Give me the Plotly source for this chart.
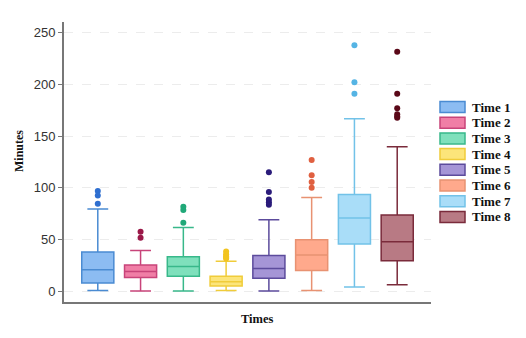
import plotly.graph_objects as go

categories = ["Time 1", "Time 2", "Time 3", "Time 4", "Time 5", "Time 6", "Time 7", "Time 8"]
q1 = [7.8, 13.0, 14.3, 4.9, 12.3, 20.0, 45.5, 29.4]
median = [20.5, 18.8, 23.7, 9.1, 21.9, 34.8, 70.6, 47.7]
q3 = [37.7, 25.3, 33.1, 14.3, 34.5, 49.7, 93.5, 73.5]
lowerfence = [0.6, 0.0, 0.0, 0.6, 0.0, 0.6, 3.9, 6.1]
upperfence = [79.5, 39.3, 61.4, 28.9, 69.0, 90.6, 166.8, 139.7]
outliers = [
    [96.8, 92.5, 84.4],
    [57.5, 51.6],
    [81.5, 78.4, 66.0],
    [38.3, 35.5, 33.8, 32.5, 31.5],
    [115.0, 95.8, 88.7, 86.0, 83.5],
    [126.8, 112.0, 105.5, 100.0],
    [238.0, 202.0, 191.0],
    [231.6, 191.0, 177.0, 171.0, 169.0, 167.7],
]
y_ticks = [0, 50, 100, 150, 200, 250]

fills = ["#8cbcf2", "#f07ea6", "#7fe0bc", "#fce57a", "#a595d6", "#ffa98c", "#a9ddf8", "#b87a84"]
lines = ["#4a8bd2", "#c8447a", "#38b88a", "#f0cc3a", "#5c4b9c", "#e89272", "#72c2e8", "#7a2b3b"]
dots = ["#2f6fd0", "#9a1848", "#20a878", "#f2c420", "#2a1b7a", "#e06040", "#55b4e4", "#5a0818"]

W, H = 526, 338
L, R, T, B = 64, 95, 22, 36
pw, ph = W - L - R, H - T - B

fig = go.Figure()
for i, c in enumerate(categories):
    fig.add_trace(go.Box(
        x=[c], q1=[q1[i]], median=[median[i]], q3=[q3[i]],
        lowerfence=[lowerfence[i]], upperfence=[upperfence[i]],
        name=c, boxpoints=False, width=0.75, whiskerwidth=0.65,
        fillcolor=fills[i], line=dict(color=lines[i], width=1.5),
        showlegend=False,
    ))
    fig.add_trace(go.Scatter(
        x=[c] * len(outliers[i]), y=outliers[i], mode="markers",
        marker=dict(color=dots[i], size=6), showlegend=False,
        hoverinfo="y",
    ))

# manual legend (compact spacing like the reference)
shapes = []
annotations = []
for i, c in enumerate(categories):
    yc = 107 + 15.7 * i
    shapes.append(dict(
        type="rect", xref="paper", yref="paper",
        x0=(440 - L) / pw, x1=(465 - L) / pw,
        y0=(T + ph - (yc + 5.5)) / ph, y1=(T + ph - (yc - 5.5)) / ph,
        fillcolor=fills[i], line=dict(color=lines[i], width=1.5),
    ))
    annotations.append(dict(
        text="<b>" + c + "</b>", xref="paper", yref="paper",
        x=(470 - L) / pw, y=(T + ph - yc) / ph, xanchor="left", yanchor="middle",
        showarrow=False, font=dict(family="Liberation Serif", size=13, color="#111"),
    ))

annotations.append(dict(
    text="<b>Times</b>", xref="paper", yref="paper",
    x=(257 - L) / pw, y=(T + ph - 319) / ph, xanchor="center", yanchor="middle",
    showarrow=False, font=dict(family="Liberation Serif", size=12.5, color="#111"),
))
annotations.append(dict(
    text="<b>Minutes</b>", xref="paper", yref="paper", textangle=-90,
    x=(19 - L) / pw, y=(T + ph - 151) / ph, xanchor="center", yanchor="middle",
    showarrow=False, font=dict(family="Liberation Serif", size=12, color="#111"),
))

fig.update_layout(
    width=W, height=H,
    margin=dict(l=L, r=R, t=T, b=B),
    paper_bgcolor="white", plot_bgcolor="white",
    showlegend=False,
    shapes=shapes, annotations=annotations,
    xaxis=dict(
        type="category", categoryorder="array", categoryarray=categories,
        range=[-0.79, 7.79], showticklabels=False, ticks="",
        showline=True, linecolor="#777", linewidth=2, showgrid=False, zeroline=False,
    ),
    yaxis=dict(
        range=[-10.6, 260.4], tickvals=y_ticks, ticks="outside", ticklen=4, tickcolor="#777",
        showline=True, linecolor="#777", linewidth=2,
        showgrid=True, gridcolor="#ececec", griddash="dash", gridwidth=1, zeroline=False,
        tickfont=dict(family="Liberation Sans", size=13, color="#333"),
    ),
)

fig.write_html("out.html")
